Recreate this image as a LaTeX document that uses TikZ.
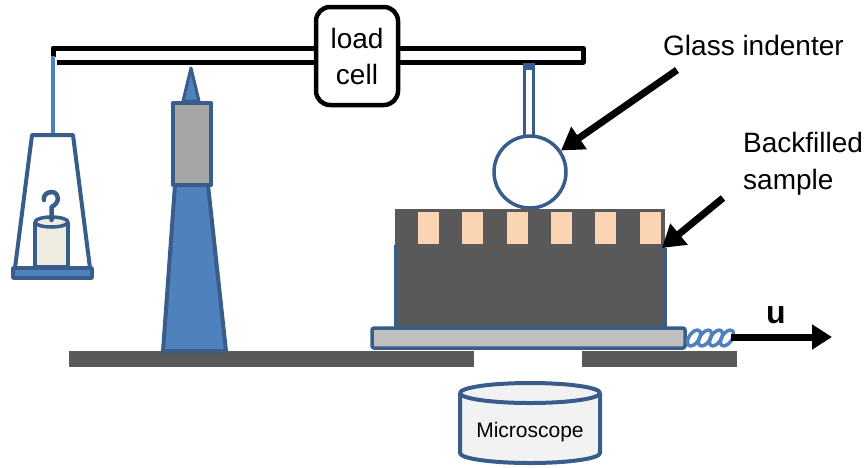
\documentclass[tikz,border=0pt]{standalone}
\usepackage{fontspec}
\setmainfont{Liberation Sans}
\usetikzlibrary{arrows.meta}

\definecolor{edgeblue}{HTML}{385D8A}
\definecolor{partblue}{HTML}{4F81BD}
\definecolor{floorgray}{HTML}{595959}
\definecolor{stagegray}{HTML}{BFBFBF}
\definecolor{pillargray}{HTML}{A6A6A6}
\definecolor{peach}{HTML}{FBD4B4}
\definecolor{weightfill}{HTML}{EEECE1}
\definecolor{scopefill}{HTML}{F2F2F2}

\tikzset{
  part/.style = {draw=edgeblue, line width=4pt},
  bigarrow/.style = {line width=7pt, -{Triangle[length=22pt, width=26pt]}},
  tag/.style = {font=\fontsize{28}{37}\selectfont, inner sep=0pt}
}

\begin{document}
\begin{tikzpicture}[x=1pt, y=-1pt, line join=round]
  \useasboundingbox (0,0) rectangle (867,467);

  % Banco (base con foro per il microscopio)
  \fill[floorgray] (69,351) rectangle (474,367);
  \fill[floorgray] (582,351) rectangle (737,367);

  % Leva orizzontale
  \fill[white] (53,48) rectangle (583,62);
  \draw[line width=5pt] (53,57) -- (53,48) -- (583,48) -- (583,62) -- (57,62);

  % Cella di carico
  \node[draw, line width=4.5pt, fill=white, rounded corners=14pt,
        minimum width=82pt, minimum height=98pt, align=center,
        font=\fontsize{28}{36}\selectfont] (cell) at (357,56) {load\\cell};

  % Piattello con il peso
  \coordinate (hang) at (53,56);
  \coordinate (pan) at (53,135);
  \draw[partblue, line width=4pt] (hang) -- (pan);
  \draw[part, fill=white] (32,135) -- (73,135) -- (90,268) -- (15,268) -- cycle;
  \draw[part, fill=partblue, line width=3.5pt] (13,268) rectangle (92,278);
  \draw[part, fill=weightfill, line width=3.5pt] (35,222) -- (35,267) -- (68,267) -- (68,222);
  \draw[part, fill=weightfill, line width=3.5pt] (51.5,222) ellipse [x radius=16.5pt, y radius=5pt];
  \draw[part, line width=4.5pt, line cap=round] (51.5,220) -- (51.5,207)
    .. controls (60,203) and (60,193) .. (52,192) .. controls (46,192) and (43,196) .. (44,200);

  % Colonna (fulcro)
  \draw[part, fill=partblue, line width=3pt] (183,101) -- (191,68) -- (199,101) -- cycle;
  \draw[part, fill=partblue] (175,185) -- (208,185) -- (226,351) -- (163,351) -- cycle;
  \draw[part, fill=pillargray] (173,103) rectangle (211,185);

  % Penetratore di vetro
  \draw[draw=edgeblue, line width=3pt, fill=white] (524.5,64) rectangle (533.5,136);
  \fill[edgeblue] (523,63) rectangle (535,70);
  \node[circle, draw=edgeblue, line width=3.5pt, fill=white,
        minimum size=72pt, inner sep=0pt] (indenter) at (530,172) {};

  % Campione
  \fill[floorgray] (395,209) rectangle (665,328);
  \draw[edgeblue, line width=3pt] (395,245) -- (395,328) -- (665,328) -- (665,248);
  \foreach \i in {0,...,5}
    \draw[fill=peach, draw=gray!70!black, line width=0.6pt] (417+44.4*\i,211) rectangle ++(22,33);

  % Tavola mobile
  \draw[part, line width=3.5pt, fill=stagegray, rounded corners=2pt] (372,328) rectangle (685,348);

  % Molla (spire inclinate) e spostamento
  \coordinate (springB) at (731,337);
  \coordinate (pull) at (832,337);
  \foreach \i in {0,...,3}
    \draw[partblue, line width=3.5pt, rotate around={-35:(694+11*\i,338)}]
      (694+11*\i,338) ellipse [x radius=5pt, y radius=9pt];
  \draw[line width=7pt, -{Triangle[length=20pt, width=24pt]}] (springB) -- (pull);
  \node[tag, font=\fontsize{32}{34}\selectfont\bfseries, anchor=base] (u) at (776,323) {u};

  % Microscopio
  \draw[part, fill=scopefill] (460,393) -- (460,453)
    arc[start angle=180, end angle=360, x radius=70pt, y radius=10pt] -- (600,393);
  \draw[part, fill=scopefill] (530,393) ellipse [x radius=70pt, y radius=10pt];
  \node[font=\fontsize{21}{24}\selectfont] (scope) at (530,432) {Microscope};

  % Etichette con frecce
  \node[tag, anchor=base west] (glass) at (663,55) {Glass indenter};
  \node[tag, anchor=base west, align=left] (sample) at (743,189) {Backfilled\\sample};
  \coordinate (glasstail) at (677,70);
  \coordinate (sampletail) at (723,198);
  \draw[bigarrow] (glasstail) -- (indenter);
  \draw[bigarrow] (sampletail) -- (662,248);
\end{tikzpicture}
\end{document}
